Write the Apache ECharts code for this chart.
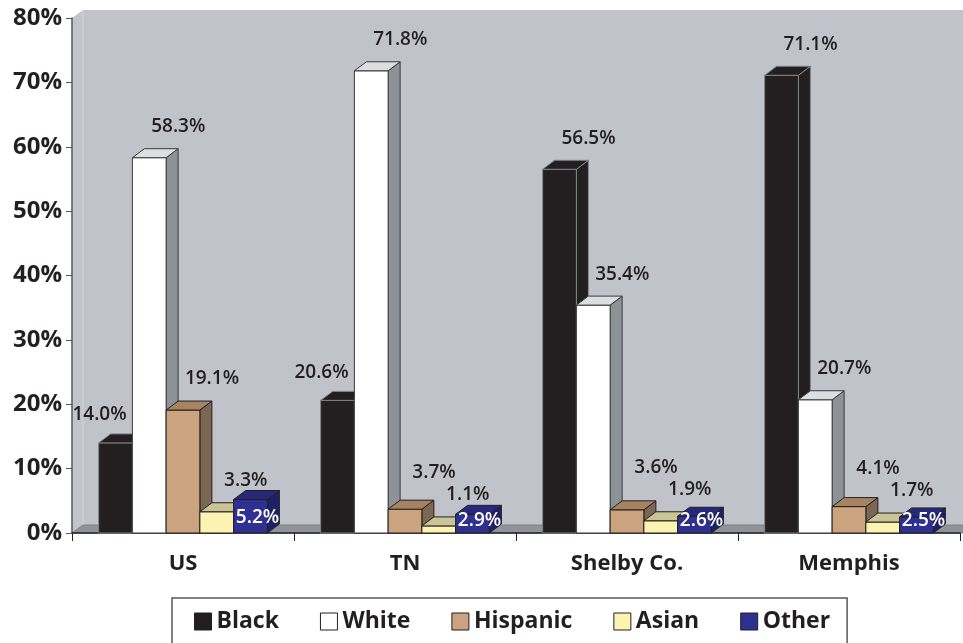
<!DOCTYPE html>
<html>
<head>
<meta charset="utf-8">
<script src="https://cdn.jsdelivr.net/npm/echarts@6/dist/echarts.min.js"></script>
<style>
  html, body { margin: 0; padding: 0; background: #ffffff; }
  #chart { width: 963px; height: 643px; }
</style>
</head>
<body>
<div id="chart"></div>
<script>
// ---- data ----
const categories = ['US', 'TN', 'Shelby Co.', 'Memphis'];
const seriesNames = ['Black', 'White', 'Hispanic', 'Asian', 'Other'];
const black    = [14.0, 20.6, 56.5, 71.1];
const white    = [58.3, 71.8, 35.4, 20.7];
const hispanic = [19.1, 3.7, 3.6, 4.1];
const asian    = [3.3, 1.1, 1.9, 1.7];
const other    = [5.2, 2.9, 2.6, 2.5];
const yTicks = { min: 0, max: 80, interval: 10 };

const seriesValues = [black, white, hispanic, asian, other];

// ---- styles ----
const FONT = '"Open Sans", "DejaVu Sans", sans-serif';
const TEXT = '#231f20';
const palette = [
  { front: '#231f20', top: '#231f20', side: '#231f20', stroke: '#808388' },
  { front: '#ffffff', top: '#dcdfe2', side: '#8d9297', stroke: '#3a3a3c' },
  { front: '#cba37e', top: '#a68462', side: '#7b6753', stroke: '#231f20' },
  { front: '#fbf3b2', top: '#c9c596', side: '#a19e78', stroke: '#231f20' },
  { front: '#2e3192', top: '#26297a', side: '#1e2166', stroke: '#231f20' }
];
const DX = 12, DY = -9;      // bar depth
const FDX = 11, FDY = -8;    // floor / wall depth
const BAR_RATIO = 0.152;
const LABEL_FONT = '600 19px ' + FONT;
const LAST = seriesValues.length - 1;

function topY(api, cat, i) {
  return api.coord([cat, seriesValues[i][cat]])[1];
}
// a label is moved to the left when the next (taller) bar would cover it
function isBlocked(api, cat, i) {
  if (i >= LAST) return false;
  const ly = topY(api, cat, i) - 31;
  return topY(api, cat, i + 1) < ly + 10;
}
function labelY(api, cat, i) {
  const yt = topY(api, cat, i);
  if (isBlocked(api, cat, i)) return yt - 28;
  let ly = yt - 31;
  if (i + 1 < LAST && !isBlocked(api, cat, i + 1)) {
    const nextLy = labelY(api, cat, i + 1);
    if (ly > nextLy - 22) ly = nextLy - 22;
  }
  return ly;
}

function makeBarRenderer(i) {
  return function (params, api) {
    const cat = api.value(0);
    const val = api.value(1);
    const base = api.coord([cat, 0]);
    const topPt = api.coord([cat, val]);
    const cw = api.size([1, 0])[0];
    const bw = cw * BAR_RATIO;
    const x0 = base[0] - 2.5 * bw + i * bw;
    const x1 = x0 + bw;
    const yb = base[1];
    const yt = topPt[1];
    const c = palette[i];
    const children = [
      { type: 'polygon', shape: { points: [[x1, yt], [x1 + DX, yt + DY], [x1 + DX, yb + DY], [x1, yb]] },
        style: { fill: c.side, stroke: c.stroke, lineWidth: 1 } },
      { type: 'rect', shape: { x: x0, y: yt, width: bw, height: yb - yt },
        style: { fill: c.front, stroke: c.stroke, lineWidth: 1 } },
      { type: 'polygon', shape: { points: [[x0, yt], [x0 + DX, yt + DY], [x1 + DX, yt + DY], [x1, yt]] },
        style: { fill: c.top, stroke: c.stroke, lineWidth: 1 } }
    ];
    const txt = val.toFixed(1) + '%';
    const cx = (x0 + x1) / 2;
    if (i === LAST) {
      children.push({ type: 'text', z2: 100,
        style: { text: txt, x: cx + 7, y: Math.min(yt + 18, yb - 12), fill: '#ffffff',
          font: LABEL_FONT, align: 'center', verticalAlign: 'middle' } });
    } else {
      const ly = labelY(api, cat, i);
      const lx = isBlocked(api, cat, i) ? cx - 16 : cx + 29;
      children.push({ type: 'text', z2: 100,
        style: { text: txt, x: lx, y: ly, fill: TEXT,
          font: LABEL_FONT, align: 'center', verticalAlign: 'middle' } });
    }
    return { type: 'group', children: children };
  };
}

function renderWalls(params, api) {
  const cs = params.coordSys;
  const l = cs.x, t = cs.y, r = cs.x + cs.width, b = cs.y + cs.height;
  return {
    type: 'group',
    children: [
      { type: 'rect', shape: { x: l + FDX, y: t + FDY, width: r - l + 20, height: b - t },
        style: { fill: '#c0c3ca' } },
      { type: 'polygon', shape: { points: [[l, b], [l, t], [l + FDX, t + FDY], [l + FDX, b + FDY]] },
        style: { fill: '#c1c4cb' } },
      { type: 'line', shape: { x1: l + FDX, y1: t + FDY, x2: l + FDX, y2: b + FDY },
        style: { stroke: '#d3d5d9', lineWidth: 1 } },
      { type: 'polygon', shape: { points: [[l, b], [l + FDX, b + FDY], [r + FDX + 20, b + FDY], [r + 20, b]] },
        style: { fill: '#8e9499', stroke: '#6f7377', lineWidth: 0.8 } }
    ]
  };
}

const series = [{
  type: 'custom',
  name: '_walls',
  z: -1,
  silent: true,
  renderItem: renderWalls,
  data: [[0, 0]],
  encode: { x: 0, y: 1 }
}];
seriesNames.forEach(function (name, i) {
  series.push({
    type: 'custom',
    name: name,
    z: 2,
    renderItem: makeBarRenderer(i),
    itemStyle: { color: palette[i].front, borderColor: '#231f20', borderWidth: 1 },
    encode: { x: 0, y: 1 },
    data: seriesValues[i].map(function (v, k) { return [k, v]; })
  });
});

const chart = echarts.init(document.getElementById('chart'), null, { renderer: 'canvas' });
chart.setOption({
  animation: false,
  backgroundColor: '#ffffff',
  grid: { left: 72, right: 3, top: 18, bottom: 110, containLabel: false },
  xAxis: {
    type: 'category',
    data: categories,
    boundaryGap: true,
    axisLine: { show: true, lineStyle: { color: '#231f20', width: 1.5 } },
    axisTick: { show: true, alignWithLabel: false, length: 8, lineStyle: { color: '#231f20', width: 1 } },
    axisLabel: { margin: 20, fontFamily: FONT, fontWeight: 'bold', fontSize: 22, color: TEXT },
    splitLine: { show: false }
  },
  yAxis: {
    type: 'value',
    min: yTicks.min, max: yTicks.max, interval: yTicks.interval,
    axisLine: { show: true, lineStyle: { color: '#58595b', width: 1.5 } },
    axisTick: { show: true, inside: false, length: 6, lineStyle: { color: '#58595b', width: 1 } },
    axisLabel: { margin: 10, formatter: '{value}%', fontFamily: FONT, fontWeight: 'bold', fontSize: 24, color: TEXT },
    splitLine: { show: false }
  },
  legend: {
    data: seriesNames,
    left: 172, top: 598,
    orient: 'horizontal',
    padding: [12, 17, 20, 22],
    itemGap: 41,
    itemWidth: 17, itemHeight: 17,
    icon: 'rect',
    borderColor: '#58595b', borderWidth: 1.5,
    textStyle: { fontFamily: FONT, fontWeight: 'bold', fontSize: 23, color: TEXT },
    itemStyle: { borderColor: '#231f20', borderWidth: 1 }
  },
  series: series
});
</script>
</body>
</html>
